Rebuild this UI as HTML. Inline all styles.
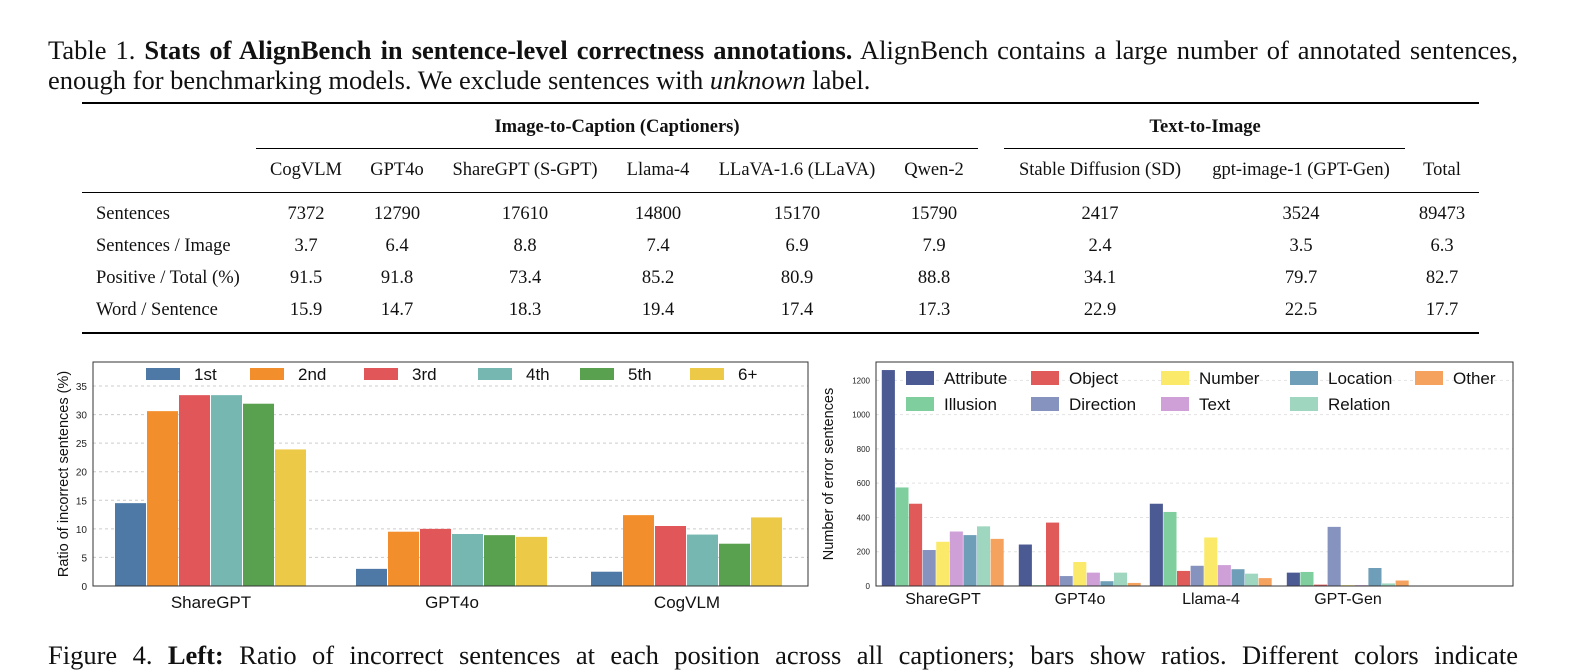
<!DOCTYPE html>
<html><head><meta charset="utf-8">
<style>
body{margin:0;width:1583px;height:647px;overflow:hidden;background:#fff;position:relative;font-family:"Liberation Serif",serif;color:#111}
.t{position:absolute;white-space:nowrap;line-height:30px}
.cap{font-size:26.5px;left:48px}
.just{width:1470px;text-align:justify;text-align-last:justify;white-space:normal}
.rule{position:absolute;background:#000}
.c{position:absolute;font-size:18.5px;transform:translateX(-50%);white-space:nowrap}
.l{position:absolute;font-size:18.5px;left:96px;white-space:nowrap}
svg text{font-family:"Liberation Sans",sans-serif}
</style></head><body>
<div class="t cap just" style="top:35px">Table 1. <b>Stats of AlignBench in sentence-level correctness annotations.</b> AlignBench contains a large number of annotated sentences,</div>
<div class="t cap" style="top:65px">enough for benchmarking models. We exclude sentences with <i>unknown</i> label.</div>

<div>
<div class="rule" style="left:82px;width:1397px;top:102px;height:2px"></div>
<div class="c" style="left:617px;top:117px;font-weight:bold">Image-to-Caption (Captioners)</div>
<div class="c" style="left:1205px;top:117px;font-weight:bold">Text-to-Image</div>
<div class="rule" style="left:256px;width:722px;top:148px;height:1px"></div>
<div class="rule" style="left:1004px;width:401px;top:148px;height:1px"></div>
<div class="rule" style="left:82px;width:1397px;top:192px;height:1px"></div>
<div class="rule" style="left:82px;width:1397px;top:332px;height:2px"></div>
<div id="tbl"></div>
</div>

<svg id="left" style="position:absolute;left:0;top:350px" width="820" height="270"></svg>
<svg id="right" style="position:absolute;left:815px;top:350px" width="720" height="270"></svg>

<div class="t cap just" style="top:640px">Figure 4. <b>Left:</b> Ratio of incorrect sentences at each position across all captioners; bars show ratios. Different colors indicate</div>

<script>
const cols=[306,397,525,658,797,934,1100,1301,1442];
const heads=["CogVLM","GPT4o","ShareGPT (S-GPT)","Llama-4","LLaVA-1.6 (LLaVA)","Qwen-2","Stable Diffusion (SD)","gpt-image-1 (GPT-Gen)","Total"];
const rowNames=["Sentences","Sentences / Image","Positive / Total (%)","Word / Sentence"];
const rows=[["7372","12790","17610","14800","15170","15790","2417","3524","89473"],
["3.7","6.4","8.8","7.4","6.9","7.9","2.4","3.5","6.3"],
["91.5","91.8","73.4","85.2","80.9","88.8","34.1","79.7","82.7"],
["15.9","14.7","18.3","19.4","17.4","17.3","22.9","22.5","17.7"]];
const tb=document.getElementById('tbl');
heads.forEach((h,i)=>{const d=document.createElement('div');d.className='c';d.style.left=cols[i]+'px';d.style.top='160px';d.textContent=h;


tb.appendChild(d);});
rowNames.forEach((r,j)=>{const y=204+j*32;const d=document.createElement('div');d.className='l';d.style.top=y+'px';d.textContent=r;


tb.appendChild(d);
rows[j].forEach((v,i)=>{const e=document.createElement('div');e.className='c';e.style.left=cols[i]+'px';e.style.top=y+'px';e.textContent=v;


tb.appendChild(e);});});

const NS="http://www.w3.org/2000/svg";
function mk(svg,tag,a,txt){const e=document.createElementNS(NS,tag);for(const k in a)e.setAttribute(k,a[k]);if(txt!==undefined)e.textContent=txt;svg.appendChild(e);return e;}

const lCats=["ShareGPT","GPT4o","CogVLM"];
const lSeries=["1st","2nd","3rd","4th","5th","6+"];
const lVals=[[14.5,3.0,2.5],[30.6,9.5,12.4],[33.4,10.0,10.5],[33.4,9.1,9.0],[31.9,8.9,7.4],[23.9,8.6,12.0]];
const lTicks=[0,5,10,15,20,25,30,35];
const lColors=["#4e79a7","#f28e2b","#e15759","#76b7b2","#59a14f","#edc948"];
(function(){
const s=document.getElementById('left');
const x0=93,x1=808,yb=236,yt=12,ymax=39.2;
const Y=v=>yb-(v/ymax)*(yb-yt);
const centers=[211,452,687],bw=32;
lTicks.forEach(t=>{
 if(t>0){const g=mk(s,'line',{x1:x0,x2:x1,y1:Y(t),y2:Y(t),stroke:'#ccc','stroke-dasharray':'3,3','stroke-width':1});
 
 }
 const tx=mk(s,'text',{x:x0-6,y:Y(t)+4,'text-anchor':'end','font-size':10,fill:'#222'},t);
 
 
});
lSeries.forEach((n,si)=>{lCats.forEach((c,ci)=>{
 const x=centers[ci]+(si-3)*bw;const v=lVals[si][ci];
 const r=mk(s,'rect',{x:x,y:Y(v),width:bw-1,height:yb-Y(v),fill:lColors[si]});
 
 
});});
const bx=mk(s,'rect',{x:x0,y:yt,width:x1-x0,height:yb-yt,fill:'none',stroke:'#333','stroke-width':1});


lCats.forEach((c,ci)=>{const t=mk(s,'text',{x:centers[ci],y:258,'text-anchor':'middle','font-size':17,fill:'#111'},c);
 
 });
const yl=mk(s,'text',{x:0,y:0,transform:'translate(68,124) rotate(-90)','text-anchor':'middle','font-size':14.5,fill:'#111'},'Ratio of incorrect sentences (%)');


const lx=[146,250,364,478,580,690];
lSeries.forEach((n,i)=>{const r=mk(s,'rect',{x:lx[i],y:18,width:34,height:12,fill:lColors[i]});
 
 
 const t=mk(s,'text',{x:lx[i]+48,y:30,'font-size':17,fill:'#111'},n);
 
 });
})();

const rCats=["ShareGPT","GPT4o","Llama-4","GPT-Gen"];
const rSeries=["Attribute","Illusion","Object","Direction","Number","Text","Location","Relation","Other"];
const rVals=[[1260,242,480,78],[575,5,432,82],[480,370,88,8],[210,58,118,345],[258,140,283,5],[318,78,122,5],[297,28,98,105],[348,78,72,15],[275,18,46,32]];
const rTicks=[0,200,400,600,800,1000,1200];
const rColors=["#4c5a94","#7fcf9e","#e05a5a","#8793bf","#fbe96a","#cfa0d8","#6f9fb8","#9fd6c0","#f5a25e"];
(function(){
const s=document.getElementById('right');
const x0=61,x1=698,yb=236,yt=12,ymax=1307;
const Y=v=>yb-(v/ymax)*(yb-yt);
const centers=[128,265,396,533],bw=13.6;
rTicks.forEach(t=>{
 if(t>0){const g=mk(s,'line',{x1:x0,x2:x1,y1:Y(t),y2:Y(t),stroke:'#e2e2e2','stroke-dasharray':'3,3','stroke-width':1});
 
 }
 const tx=mk(s,'text',{x:x0-6,y:Y(t)+3,'text-anchor':'end','font-size':8,fill:'#222'},t);
 
 
});
rSeries.forEach((n,si)=>{rCats.forEach((c,ci)=>{
 const x=centers[ci]+(si-4.5)*bw;const v=rVals[si][ci];
 const r=mk(s,'rect',{x:x,y:Y(v),width:bw-0.5,height:yb-Y(v),fill:rColors[si]});
 
 
});});
const bx=mk(s,'rect',{x:x0,y:yt,width:x1-x0,height:yb-yt,fill:'none',stroke:'#333','stroke-width':1});


rCats.forEach((c,ci)=>{const t=mk(s,'text',{x:centers[ci],y:254,'text-anchor':'middle','font-size':16,fill:'#111'},c);
 
 });
const yl=mk(s,'text',{x:0,y:0,transform:'translate(18,124) rotate(-90)','text-anchor':'middle','font-size':14.5,fill:'#111'},'Number of error sentences');


const lx=[91,216,346,475,600];
rSeries.forEach((n,i)=>{const row=i%2,col=Math.floor(i/2);
 const r=mk(s,'rect',{x:lx[col],y:21+row*26,width:28,height:14,fill:rColors[i]});
 
 
 const t=mk(s,'text',{x:lx[col]+38,y:34+row*26,'font-size':17,fill:'#111'},n);
 
 });
})();
</script>
</body></html>
